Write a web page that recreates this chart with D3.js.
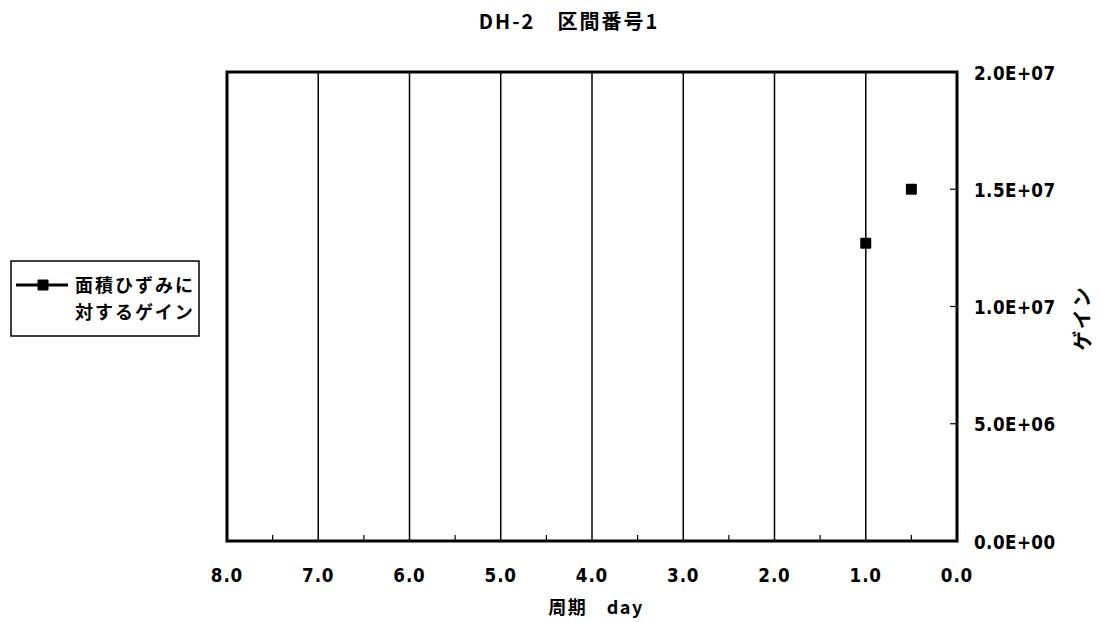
<!DOCTYPE html>
<html>
<head>
<meta charset="utf-8">
<script src="https://cdn.jsdelivr.net/npm/d3@7"></script>
<style>
  html, body { margin: 0; padding: 0; background: #fff; }
  svg { display: block; }
  text { font-family: "DejaVu Sans", "Noto Sans CJK JP", sans-serif; font-weight: bold; fill: #000; }
  .jp { font-family: "Noto Sans CJK JP", sans-serif; font-weight: bold; }
</style>
</head>
<body>
<svg id="chart" width="1100" height="622"></svg>
<script>
// Series: gain with respect to areal strain, by period (days)
const periods = [1.0, 0.5];
const gains = [1.27e7, 1.5e7];

const xTicks = [8, 7, 6, 5, 4, 3, 2, 1, 0];
const xTickLabels = ["8.0", "7.0", "6.0", "5.0", "4.0", "3.0", "2.0", "1.0", "0.0"];
const yTicks = [0, 5e6, 1e7, 1.5e7, 2e7];
const yTickLabels = ["0.0E+00", "5.0E+06", "1.0E+07", "1.5E+07", "2.0E+07"];

const chartTitle = "DH-2\u3000区間番号1";
const xTitle = "周期\u3000day";
const yTitle = "ゲイン";
const legendLines = ["面積ひずみに", "対するゲイン"];

const svg = d3.select("#chart");
const plot = { left: 227, right: 957, top: 72, bottom: 541 };
const narrow = 0.84; // horizontal squeeze for the condensed tick digits

const x = d3.scaleLinear().domain([8, 0]).range([plot.left, plot.right]);
const y = d3.scaleLinear().domain([0, 2e7]).range([plot.bottom, plot.top]);

// Vertical grid lines at whole days
svg.append("g")
  .selectAll("line")
  .data(xTicks.filter(d => d > 0 && d < 8))
  .join("line")
  .attr("x1", d => x(d)).attr("x2", d => x(d))
  .attr("y1", plot.top).attr("y2", plot.bottom)
  .attr("stroke", "#000").attr("stroke-width", 1.5);

// Bottom axis labels
svg.append("g")
  .selectAll("text")
  .data(xTicks)
  .join("text")
  .attr("transform", d => `translate(${x(d)},582) scale(${narrow},1)`)
  .attr("text-anchor", "middle")
  .attr("letter-spacing", "1px")
  .style("font-size", "20px")
  .text((d, i) => xTickLabels[i]);

// Minor ticks on the bottom edge, pointing inward
svg.append("g")
  .selectAll("line")
  .data(d3.range(0.5, 8, 1))
  .join("line")
  .attr("x1", d => x(d)).attr("x2", d => x(d))
  .attr("y1", plot.bottom).attr("y2", plot.bottom - 6)
  .attr("stroke", "#000").attr("stroke-width", 1.2);

// Right axis labels
svg.append("g")
  .selectAll("text")
  .data(yTicks)
  .join("text")
  .attr("transform", d => `translate(974,${y(d) + 7.5}) scale(${narrow},1)`)
  .attr("letter-spacing", "0.5px")
  .style("font-size", "20px")
  .text((d, i) => yTickLabels[i]);

// Ticks on the right edge, pointing inward
svg.append("g")
  .selectAll("line")
  .data(yTicks.slice(1, -1))
  .join("line")
  .attr("x1", plot.right).attr("x2", plot.right - 7)
  .attr("y1", d => y(d)).attr("y2", d => y(d))
  .attr("stroke", "#000").attr("stroke-width", 1.2);

// Plot frame
svg.append("rect")
  .attr("x", plot.left).attr("y", plot.top)
  .attr("width", plot.right - plot.left).attr("height", plot.bottom - plot.top)
  .attr("fill", "none").attr("stroke", "#000").attr("stroke-width", 3);

// Markers
const ms = 11;
svg.append("g")
  .selectAll("rect")
  .data(periods.map((p, i) => [p, gains[i]]))
  .join("rect")
  .attr("x", d => x(d[0]) - ms / 2).attr("y", d => y(d[1]) - ms / 2)
  .attr("width", ms).attr("height", ms)
  .attr("rx", 1)
  .attr("fill", "#000");

// Titles
svg.append("text").attr("class", "jp")
  .attr("x", 569).attr("y", 29)
  .attr("text-anchor", "middle")
  .style("font-size", "20px").attr("letter-spacing", "2px")
  .text(chartTitle);

svg.append("text").attr("class", "jp")
  .attr("x", 596).attr("y", 614)
  .attr("text-anchor", "middle")
  .style("font-size", "18px").attr("letter-spacing", "1.5px")
  .text(xTitle);

svg.append("text").attr("class", "jp")
  .attr("transform", "translate(1090,318) rotate(-90)")
  .attr("text-anchor", "middle")
  .style("font-size", "20px").attr("letter-spacing", "2px")
  .text(yTitle);

// Legend
const lg = svg.append("g");
lg.append("rect")
  .attr("x", 11).attr("y", 261).attr("width", 188).attr("height", 75)
  .attr("fill", "#fff").attr("stroke", "#000").attr("stroke-width", 1.5);
lg.append("line")
  .attr("x1", 16).attr("x2", 68).attr("y1", 285).attr("y2", 285)
  .attr("stroke", "#000").attr("stroke-width", 3);
lg.append("rect")
  .attr("x", 43 - ms / 2).attr("y", 285 - ms / 2).attr("width", ms).attr("height", ms)
  .attr("rx", 1).attr("fill", "#000");
lg.selectAll("text.leg")
  .data(legendLines)
  .join("text")
  .attr("class", "jp leg")
  .attr("x", 75).attr("y", (d, i) => 292 + i * 27)
  .style("font-size", "18px").attr("letter-spacing", "2px")
  .text(d => d);
</script>
</body>
</html>
